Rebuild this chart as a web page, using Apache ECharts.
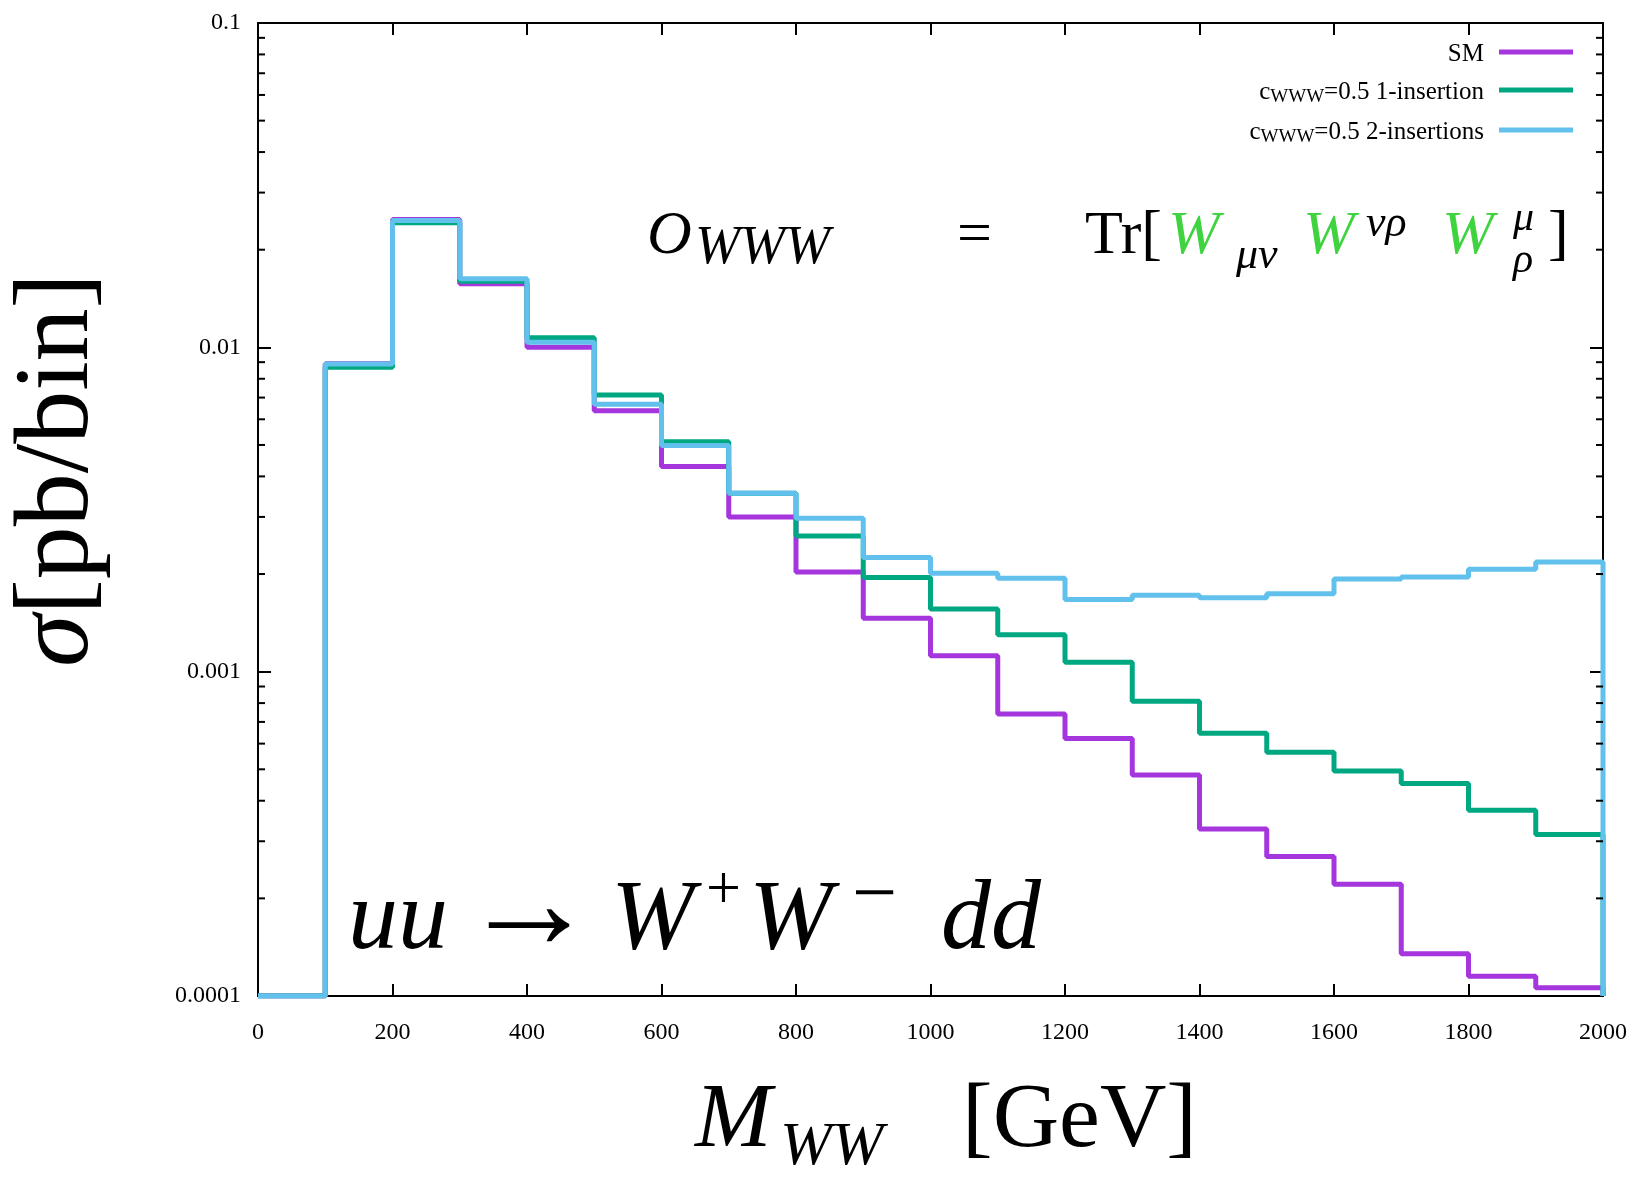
<!DOCTYPE html>
<html><head><meta charset="utf-8">
<script src="https://cdn.jsdelivr.net/npm/echarts@6/dist/echarts.min.js"></script>
<style>html,body{margin:0;padding:0;background:#fff}#c{width:1631px;height:1178px}</style>
</head><body><div id="c"></div>
<script>
// ---- data ----
const binEdges = [0,100,200,300,400,500,600,700,800,900,1000,1100,1200,1300,1400,1500,1600,1700,1800,1900,2000];
const floorValue = 0.0001; // empty bin / closing edge drawn at the axis floor
const smValues   = [0.0001,0.0089,0.0248,0.0157,0.0100,0.00637,0.00429,0.00300,0.00203,0.00146,0.00112,0.00074,0.000622,0.00048,0.000327,0.000269,0.000221,0.000135,0.000115,0.000106];
const ins1Values = [0.0001,0.00868,0.0242,0.0160,0.0107,0.00713,0.00512,0.00355,0.00262,0.00195,0.00156,0.00130,0.00107,0.000811,0.000646,0.000564,0.000494,0.000452,0.000374,0.000315];
const ins2Values = [0.0001,0.00888,0.0246,0.01626,0.01036,0.00668,0.00498,0.00355,0.00297,0.00225,0.00201,0.00194,0.00167,0.00172,0.00169,0.00174,0.00193,0.00196,0.00207,0.00218];
const seriesNames = ['SM','c_WWW=0.5 1-insertion','c_WWW=0.5 2-insertions'];
const xTickStep = 200;
const yTickLabels = ['0.0001','0.001','0.01','0.1'];
const yMinorTicks = [2e-4,3e-4,4e-4,5e-4,6e-4,7e-4,8e-4,9e-4,2e-3,3e-3,4e-3,5e-3,6e-3,7e-3,8e-3,9e-3,2e-2,3e-2,4e-2,5e-2,6e-2,7e-2,8e-2,9e-2];

// ---- styling ----
const colors = ['#a535dd','#00a882','#62c0ec'];
const serif = "'Liberation Serif','DejaVu Serif',serif";
const green = '#3fd43f';

function histo(vals){
  const pts = vals.map((v,i)=>[binEdges[i], v]);
  pts.push([binEdges[binEdges.length-1], floorValue]);
  return pts;
}

function txt(text, x, baseline, size, opt){
  opt = opt || {};
  return {type:'text', x:x, y: baseline - 0.3*size, z:100,
    style:{text:text, fontFamily:serif, fontSize:size, fontStyle: opt.italic?'italic':'normal',
      fill: opt.fill || '#000', align: opt.align || 'left', verticalAlign:'middle'}};
}

const chart = echarts.init(document.getElementById('c'), null, {renderer:'canvas'});

const axisCommon = {
  axisLine:{show:true, onZero:false, lineStyle:{color:'#000', width:2}},
  splitLine:{show:false}
};

const option = {
  animation:false,
  backgroundColor:'#fff',
  grid:{left:258, right:28, top:23, bottom:182, show:true, borderColor:'#000', borderWidth:2, outerBoundsMode:'none', containLabel:false},
  legend:{
    data: seriesNames, orient:'vertical', right:58, top:42, padding:0, itemGap:8,
    align:'right', icon:'rect', itemWidth:74, itemHeight:5, selectedMode:false,
    textStyle:{fontFamily:serif, fontSize:25, color:'#000', padding:[0,10,0,0],
      rich:{
        m:{fontFamily:serif, fontSize:25, lineHeight:30, verticalAlign:'bottom', color:'#000'},
        s:{fontFamily:serif, fontSize:19, lineHeight:17, verticalAlign:'top', padding:[13,0,0,0], color:'#000'}
      }},
    formatter: function(name){
      if (name.indexOf('c_WWW') === 0) return '{m|c}{s|WWW}{m|' + name.slice(5) + '}';
      return '{m|' + name + '}';
    }
  },
  xAxis:[
    Object.assign({type:'value', position:'bottom', min:0, max:2000, interval:xTickStep,
      axisTick:{show:true, inside:true, length:12, lineStyle:{color:'#000', width:2}},
      axisLabel:{show:true, margin:25, fontFamily:serif, fontSize:24, color:'#000',
        formatter:function(v){ return String(v); }}}, axisCommon),
    Object.assign({type:'value', position:'top', min:0, max:2000, interval:xTickStep,
      axisTick:{show:true, inside:true, length:12, lineStyle:{color:'#000', width:2}},
      axisLabel:{show:false}}, axisCommon)
  ],
  yAxis:[
    Object.assign({type:'log', logBase:10, position:'left', min:0.0001, max:0.1,
      axisTick:{show:true, inside:true, length:13, lineStyle:{color:'#000', width:2}},
      axisLabel:{show:true, margin:17, fontFamily:serif, fontSize:24, color:'#000',
        formatter:function(v){ const e = Math.round(Math.log10(v)); return yTickLabels[e+4] || ''; }}}, axisCommon),
    Object.assign({type:'log', logBase:10, position:'right', min:0.0001, max:0.1,
      axisTick:{show:true, inside:true, length:13, lineStyle:{color:'#000', width:2}},
      axisLabel:{show:false}}, axisCommon)
  ],
  series:[
    {type:'custom', name:'minorTicks', xAxisIndex:0, yAxisIndex:0, silent:true, z:10,
      data: yMinorTicks.map(v=>[0, v]),
      renderItem:function(params, api){
        const cs = params.coordSys;
        const y = api.coord([0, api.value(1)])[1];
        return {type:'group', children:[
          {type:'line', shape:{x1:cs.x, y1:y, x2:cs.x+7, y2:y}, style:{stroke:'#000', lineWidth:2}},
          {type:'line', shape:{x1:cs.x+cs.width-7, y1:y, x2:cs.x+cs.width, y2:y}, style:{stroke:'#000', lineWidth:2}}
        ]};
      }},
    {type:'line', name:seriesNames[0], data:histo(smValues), step:'end', showSymbol:false, symbol:'none', color:colors[0], lineStyle:{width:5, color:colors[0]}, z:3},
    {type:'line', name:seriesNames[1], data:histo(ins1Values), step:'end', showSymbol:false, symbol:'none', color:colors[1], lineStyle:{width:5, color:colors[1]}, z:4},
    {type:'line', name:seriesNames[2], data:histo(ins2Values), step:'end', showSymbol:false, symbol:'none', color:colors[2], lineStyle:{width:5, color:colors[2]}, z:5}
  ],
  graphic:[
    // y axis title
    {type:'text', x:59, y:470, rotation:Math.PI/2, z:100,
      style:{text:'{i|σ}{r|[pb/bin]}', align:'center', verticalAlign:'middle',
        rich:{i:{fontFamily:serif, fontSize:106, fontStyle:'italic', fill:'#000'},
              r:{fontFamily:serif, fontSize:106, fill:'#000'}}}},
    // x axis title
    txt('M', 695, 1149, 92, {italic:true}),
    txt('WW', 780, 1166, 62, {italic:true}),
    txt('[GeV]', 962, 1149, 92),
    // process label
    txt('uu', 348, 952, 100, {italic:true}),
    txt('→', 461, 953, 136),
    txt('W', 611, 952, 100, {italic:true}),
    txt('+', 706, 910, 62),
    txt('W', 749, 952, 100, {italic:true}),
    txt('−', 852, 922, 80),
    txt('dd', 941, 952, 100, {italic:true}),
    // operator formula
    txt('O', 647, 255, 62, {italic:true}),
    txt('WWW', 695, 265, 54, {italic:true}),
    txt('=', 957, 255, 62),
    txt('Tr[', 1085, 255, 62),
    txt('W', 1168, 255, 62, {italic:true, fill:green}),
    txt('μν', 1236, 270, 44, {italic:true}),
    txt('W', 1303, 255, 62, {italic:true, fill:green}),
    txt('νρ', 1366, 238, 44, {italic:true}),
    txt('W', 1442, 255, 62, {italic:true, fill:green}),
    txt('μ', 1513, 232, 42, {italic:true}),
    txt('ρ', 1513, 274, 42, {italic:true}),
    txt(']', 1548, 255, 62)
  ]
};
chart.setOption(option);
</script>
</body></html>
